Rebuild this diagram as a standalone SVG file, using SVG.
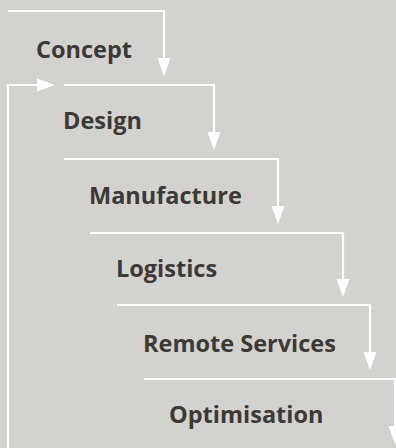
<svg xmlns="http://www.w3.org/2000/svg" width="396" height="448" viewBox="0 0 396 448">
<defs>
<style>
.lbl{font-family:"Open Sans","Noto Sans","DejaVu Sans",sans-serif;font-weight:700;font-size:23.5px;fill:#3c3936}
.ln{fill:none;stroke:#ffffff;stroke-width:2.2}
.ah{fill:#ffffff}
</style>
</defs>
<rect width="396" height="448" fill="#d3d2ce"/>
<g id="connectors">
<path class="ln" d="M8,11 H164 V60"/>
<path class="ah" d="M157.5,58 H170.5 L164,76 Z"/>
<path class="ln" d="M64,85 H214 V134"/>
<path class="ah" d="M207.5,132 H220.5 L214,150 Z"/>
<path class="ln" d="M64,159 H278 V208"/>
<path class="ah" d="M271.5,206 H284.5 L278,224 Z"/>
<path class="ln" d="M90,233 H343 V281"/>
<path class="ah" d="M336.5,279 H349.5 L343,297 Z"/>
<path class="ln" d="M117,305 H370 V354"/>
<path class="ah" d="M363.5,352 H376.5 L370,370 Z"/>
<path class="ln" d="M144,379 H395 V428"/>
<path class="ah" d="M388.5,426 H401.5 L395,444 Z"/>
<path class="ln" d="M8,450 V85 H38"/>
<path class="ah" d="M37,78.5 V91.5 L55,85 Z"/>
</g>
<g id="concept"><text class="lbl" x="36" y="58">Concept</text></g>
<g id="design"><text class="lbl" x="63" y="129">Design</text></g>
<g id="manufacture"><text class="lbl" x="89" y="204">Manufacture</text></g>
<g id="logistics"><text class="lbl" x="116" y="277">Logistics</text></g>
<g id="remote-services"><text class="lbl" x="143" y="352">Remote Services</text></g>
<g id="optimisation"><text class="lbl" x="169" y="423">Optimisation</text></g>
</svg>
